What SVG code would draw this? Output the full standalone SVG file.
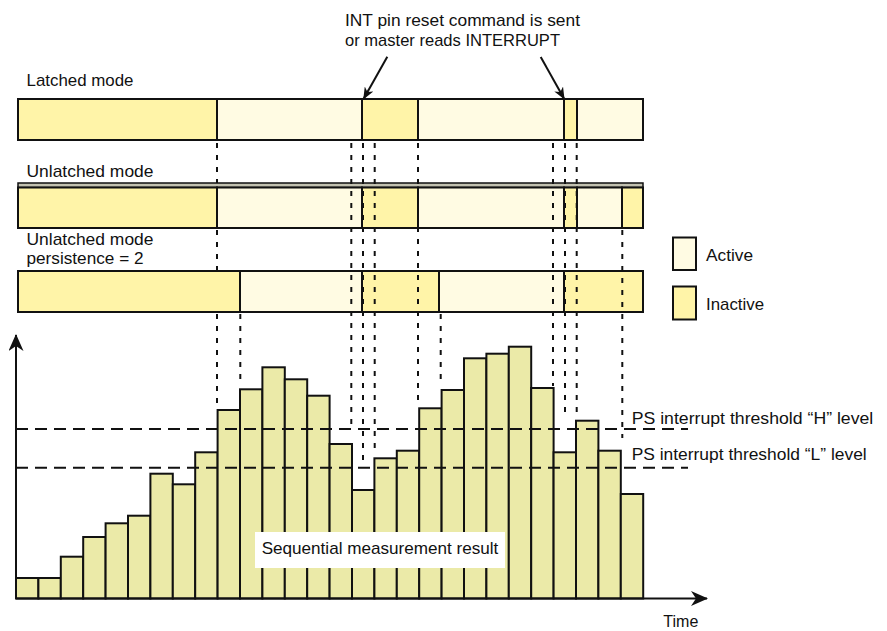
<svg xmlns="http://www.w3.org/2000/svg" width="887" height="631" viewBox="0 0 887 631">
<style>
text{font-family:"Liberation Sans",Arial,sans-serif;font-size:17px;fill:#111}
.ia{fill:#fff4a8;stroke:#111;stroke-width:2}
.ac{fill:#fffbe3;stroke:#111;stroke-width:2}
.bar{fill:#ebeaa8;stroke:#111;stroke-width:2}
.vd{stroke:#111;stroke-width:2;stroke-dasharray:5 7;fill:none}
.hd{stroke:#111;stroke-width:2;stroke-dasharray:12 7;fill:none}
.ax{stroke:#111;stroke-width:2;fill:none}
</style>
<defs>
<marker id="big" viewBox="0 0 17 15" refX="16" refY="7.5" markerWidth="17" markerHeight="15" markerUnits="userSpaceOnUse" orient="auto"><path d="M0,0 L17,7.5 L0,15 L5,7.5 Z" fill="#111"/></marker>
<marker id="sm" viewBox="0 0 12 10" refX="11.5" refY="5" markerWidth="12" markerHeight="10" markerUnits="userSpaceOnUse" orient="auto"><path d="M0,0 L12,5 L0,10 L3.5,5 Z" fill="#111"/></marker>
</defs>
<rect width="887" height="631" fill="#fff"/>

<g id="row-latched">
<rect class="ia" x="18" y="99" width="199" height="41"/>
<rect class="ac" x="217" y="99" width="145" height="41"/>
<rect class="ia" x="362" y="99" width="56" height="41"/>
<rect class="ac" x="418" y="99" width="146" height="41"/>
<rect class="ia" x="564" y="99" width="13" height="41"/>
<rect class="ac" x="577" y="99" width="66" height="41"/>
<text x="26.5" y="86" textLength="107" lengthAdjust="spacingAndGlyphs">Latched mode</text>
</g>

<g id="row-unlatched">
<rect x="18" y="183" width="625" height="4.5" fill="#c2c1b0" stroke="#111" stroke-width="1.5"/>
<rect class="ia" x="18" y="187.5" width="199" height="40.5"/>
<rect class="ac" x="217" y="187.5" width="145" height="40.5"/>
<rect class="ia" x="362" y="187.5" width="56" height="40.5"/>
<rect class="ac" x="418" y="187.5" width="146" height="40.5"/>
<rect class="ia" x="564" y="187.5" width="13" height="40.5"/>
<rect class="ac" x="577" y="187.5" width="45" height="40.5"/>
<rect class="ia" x="622" y="187.5" width="21" height="40.5"/>
<text x="26.5" y="176.5" textLength="127" lengthAdjust="spacingAndGlyphs">Unlatched mode</text>
</g>

<g id="row-persistence">
<rect class="ia" x="18" y="271" width="222" height="41"/>
<rect class="ac" x="240" y="271" width="122" height="41"/>
<rect class="ia" x="362" y="271" width="77" height="41"/>
<rect class="ac" x="439" y="271" width="125" height="41"/>
<rect class="ia" x="564" y="271" width="79" height="41"/>
<text x="26.5" y="245" textLength="127" lengthAdjust="spacingAndGlyphs">Unlatched mode</text>
<text x="26.5" y="263.5" textLength="117" lengthAdjust="spacingAndGlyphs">persistence = 2</text>
</g>

<g id="legend">
<rect class="ac" x="673" y="237.5" width="23" height="32.5"/>
<text x="706" y="260.5" textLength="47" lengthAdjust="spacingAndGlyphs">Active</text>
<rect class="ia" x="673" y="286.5" width="23" height="33"/>
<text x="706" y="310" textLength="58" lengthAdjust="spacingAndGlyphs">Inactive</text>
</g>

<g id="bars">
<rect class="bar" x="16" y="578" width="22.4" height="20.5"/>
<rect class="bar" x="38.4" y="578" width="22.4" height="20.5"/>
<rect class="bar" x="60.8" y="556.7" width="22.4" height="41.8"/>
<rect class="bar" x="83.2" y="537" width="22.4" height="61.5"/>
<rect class="bar" x="105.6" y="523.3" width="22.4" height="75.2"/>
<rect class="bar" x="128" y="515.7" width="22.4" height="82.8"/>
<rect class="bar" x="150.4" y="473.7" width="22.4" height="124.8"/>
<rect class="bar" x="172.8" y="484.3" width="22.4" height="114.2"/>
<rect class="bar" x="195.2" y="452.3" width="22.4" height="146.2"/>
<rect class="bar" x="217.6" y="410" width="22.4" height="188.5"/>
<rect class="bar" x="240" y="389.3" width="22.4" height="209.2"/>
<rect class="bar" x="262.4" y="367.3" width="22.4" height="231.2"/>
<rect class="bar" x="284.8" y="379.3" width="22.4" height="219.2"/>
<rect class="bar" x="307.2" y="395.7" width="22.4" height="202.8"/>
<rect class="bar" x="329.6" y="444" width="22.4" height="154.5"/>
<rect class="bar" x="352" y="490" width="22.4" height="108.5"/>
<rect class="bar" x="374.4" y="458.3" width="22.4" height="140.2"/>
<rect class="bar" x="396.8" y="450.7" width="22.4" height="147.8"/>
<rect class="bar" x="419.2" y="408.3" width="22.4" height="190.2"/>
<rect class="bar" x="441.6" y="390" width="22.4" height="208.5"/>
<rect class="bar" x="464" y="358.3" width="22.4" height="240.2"/>
<rect class="bar" x="486.4" y="353.7" width="22.4" height="244.8"/>
<rect class="bar" x="508.8" y="346.7" width="22.4" height="251.8"/>
<rect class="bar" x="531.2" y="388" width="22.4" height="210.5"/>
<rect class="bar" x="553.6" y="452.3" width="22.4" height="146.2"/>
<rect class="bar" x="576" y="420.7" width="22.4" height="177.8"/>
<rect class="bar" x="598.4" y="450.7" width="22.4" height="147.8"/>
<rect class="bar" x="620.8" y="494" width="22.4" height="104.5"/>
</g>

<g id="result-label">
<rect x="255" y="532" width="250" height="36" fill="#fff"/>
<text x="261.7" y="554" textLength="236.6" lengthAdjust="spacingAndGlyphs">Sequential measurement result</text>
</g>

<g id="thresholds">
<path class="hd" d="M16,429 H688"/>
<path class="hd" d="M16,467.7 H688"/>
<text x="631.7" y="423.5" textLength="241.6" lengthAdjust="spacingAndGlyphs">PS interrupt threshold “H” level</text>
<text x="631.7" y="459.5" textLength="235" lengthAdjust="spacingAndGlyphs">PS interrupt threshold “L” level</text>
</g>

<g id="axes">
<path class="ax" d="M16,598.5 V335" marker-end="url(#big)"/>
<path class="ax" d="M16,598.5 H707" marker-end="url(#big)"/>
<text x="663.3" y="627" textLength="35" lengthAdjust="spacingAndGlyphs">Time</text>
</g>

<g id="callout">
<text x="345" y="26" textLength="235" lengthAdjust="spacingAndGlyphs">INT pin reset command is sent</text>
<text x="345" y="46" textLength="215" lengthAdjust="spacingAndGlyphs">or master reads INTERRUPT</text>
</g>

<g id="connectors">
<path class="ax" d="M387.3,56.7 L363.5,99" marker-end="url(#sm)"/>
<path class="ax" d="M540.7,57 L564.3,99" marker-end="url(#sm)"/>
<path class="vd" d="M217,143 V183 M217,230 V271 M217,314 V405"/>
<path class="vd" d="M240.3,314 V386"/>
<path class="vd" d="M351.3,143 V428"/>
<path class="vd" d="M363,143 V460"/>
<path class="vd" d="M374.7,143 V452"/>
<path class="vd" d="M418,143 V403"/>
<path class="vd" d="M440.7,314 V386"/>
<path class="vd" d="M553,143 V386"/>
<path class="vd" d="M565,143 V418"/>
<path class="vd" d="M576.7,143 V416"/>
<path class="vd" d="M622.3,230 V438"/>
</g>
</svg>
